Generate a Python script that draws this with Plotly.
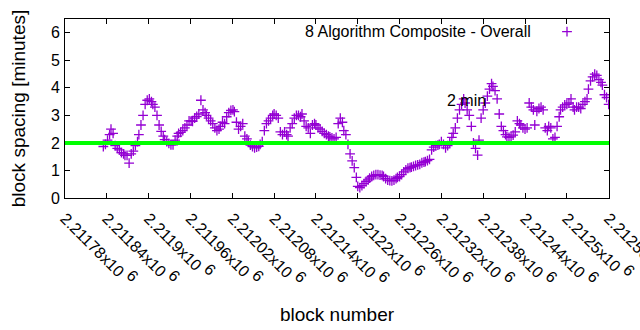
import numpy as np
import plotly.graph_objects as go

# block spacing values (minutes), in block order
spacing = [
    1.87, 1.95, 2.1, 2.3, 2.5, 2.35, 1.9, 1.8, 1.75, 1.65, 1.6, 1.55, 1.55, 1.27,
    1.6, 1.7, 1.9, 2.05, 2.3, 2.65, 3.0, 3.4, 3.55, 3.6, 3.5, 3.4, 3.3, 3.0,
    2.65, 2.42, 2.25, 2.12, 2.05, 1.98, 1.93, 1.93, 2.1, 2.25, 2.35, 2.38, 2.45,
    2.55, 2.65, 2.8, 2.8, 2.78, 2.9, 2.96, 3.05, 3.55, 3.2, 3.1, 3.0, 2.9, 2.8,
    2.7, 2.55, 2.45, 2.5, 2.6, 2.75, 2.7, 2.95, 3.1, 3.18, 3.2, 3.14, 2.75, 2.5,
    2.6, 2.7, 2.25, 2.15, 2.05, 1.92, 1.87, 1.82, 1.85, 1.88, 1.95, 2.05, 2.45,
    2.7, 2.8, 2.9, 3.0, 3.05, 3.0, 2.9, 2.4, 2.3, 2.4, 2.3, 2.25, 2.55, 2.7, 2.9,
    3.0, 3.0, 2.95, 3.05, 2.8, 2.6, 2.55, 2.35, 2.65, 2.7, 2.65, 2.55, 2.5, 2.42,
    2.35, 2.3, 2.25, 2.22, 2.18, 2.15, 2.2, 2.7, 2.9, 2.75, 2.45, 2.3, 1.95, 1.6,
    1.35, 1.1, 0.75, 0.42, 0.38, 0.45, 0.52, 0.6, 0.66, 0.72, 0.78, 0.82, 0.85,
    0.85, 0.83, 0.82, 0.78, 0.7, 0.65, 0.63, 0.62, 0.65, 0.7, 0.75, 0.78, 0.85,
    0.95, 1.02, 1.08, 1.1, 1.12, 1.15, 1.18, 1.2, 1.22, 1.28, 1.3, 1.32, 1.36,
    1.4, 1.75, 1.85, 1.9, 1.92, 1.95, 2.05, 1.95, 1.82, 1.9, 2.0, 2.2, 2.35, 2.55,
    2.9, 3.2, 3.4, 3.6, 3.45, 3.2, 3.0, 2.6, 2.0, 1.8, 1.56, 2.1, 2.9, 3.2, 3.45,
    3.7, 3.95, 4.15, 4.05, 3.9, 3.6, 3.05, 2.6, 2.45, 2.3, 2.22, 2.2, 2.22, 2.28,
    2.4, 2.8, 2.7, 2.65, 2.55, 2.5, 2.55, 3.45, 3.3, 3.2, 2.65, 3.15, 3.25, 3.3,
    3.2, 2.55, 2.45, 2.6, 2.55, 2.15, 2.2, 2.6, 2.95, 3.2, 3.3, 3.38, 3.4, 3.45,
    3.6, 3.3, 3.2, 3.3, 3.3, 3.25, 3.4, 3.5, 3.6, 3.95, 4.25, 4.4, 4.5, 4.45,
    4.3, 4.2, 4.1, 3.75, 3.65, 3.4,
]
first_block = 2211835
last_block = 2212560
blocks = np.round(np.linspace(first_block, last_block, len(spacing)))

tick_vals = [2211780 + 60 * k for k in range(14)]
tick_text = ["2.21178", "2.21184", "2.2119", "2.21196", "2.21202", "2.21208",
             "2.21214", "2.2122", "2.21226", "2.21232", "2.21238", "2.21244",
             "2.2125", "2.21256"]

target_minutes = 2
series_name = "8 Algorithm Composite - Overall"
font_family = "Liberation Sans, Arial, sans-serif"
fs = 16
tick_labels = [t + "x10 <sup><span style='font-size:%dpx'>6</span></sup>" % fs
               for t in tick_text]

fig = go.Figure()
fig.add_trace(go.Scatter(
    x=blocks, y=spacing, mode="markers", name="",
    marker=dict(symbol="cross-thin", size=7, color="#9400d3",
                line=dict(color="#9400d3", width=1.3)),
    showlegend=True,
))

fig.add_shape(type="line", xref="paper", x0=0, x1=1, yref="y",
              y0=target_minutes, y1=target_minutes,
              line=dict(color="#00ff00", width=4), layer="above")

fig.add_annotation(text=series_name, xref="paper", yref="paper",
                   x=(533 - 65) / 544, y=(198 - 32) / 179, xanchor="right",
                   yanchor="middle", showarrow=False,
                   font=dict(size=fs, color="#000000", family=font_family))
fig.add_annotation(text="2 min", x=2212325, y=3.53, xanchor="left",
                   yanchor="middle", showarrow=False,
                   font=dict(size=fs, color="#000000", family=font_family))

axis_common = dict(showline=True, linecolor="black", linewidth=1, mirror="allticks",
                   ticks="inside", ticklen=5, tickcolor="black", showgrid=False,
                   zeroline=False, automargin=False,
                   tickfont=dict(size=fs, color="black", family=font_family))

fig.update_layout(
    width=640, height=330,
    margin=dict(l=65, r=31, t=19, b=132, autoexpand=False),
    paper_bgcolor="white", plot_bgcolor="white",
    font=dict(family=font_family, size=fs, color="black"),
    xaxis=dict(range=[2211780, 2212560.5], tickvals=tick_vals, ticktext=tick_labels,
               tickangle=45, ticklabelstandoff=4, ticklabeloverflow="allow",
               title=dict(text="block number", standoff=18),
               **axis_common),
    yaxis=dict(range=[0, 6.5], tickvals=[0, 1, 2, 3, 4, 5, 6],
               ticklabelstandoff=1,
               title=dict(text="block spacing [minutes]", standoff=20),
               **axis_common),
    legend=dict(x=(567 - 65 - 20) / 544, y=(198 - 32) / 179, xanchor="left",
                yanchor="middle", bgcolor="rgba(0,0,0,0)", borderwidth=0,
                font=dict(size=14), itemwidth=30),
)

fig.write_html("out.html")
